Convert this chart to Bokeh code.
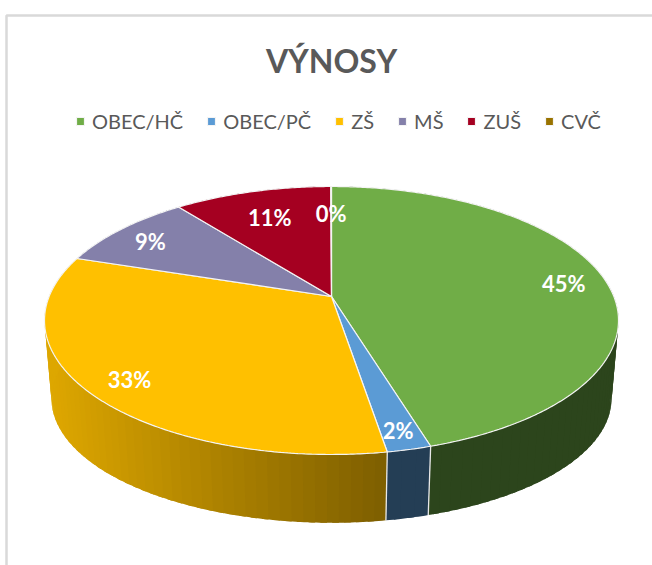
import math
from bokeh.plotting import figure
from bokeh.models import Range1d, Legend, LegendItem, Label
from bokeh.core.properties import value
from bokeh.embed import file_html
from bokeh.resources import INLINE

categories = ["OBEC/HČ", "OBEC/PČ", "ZŠ", "MŠ", "ZUŠ", "CVČ"]
shares = [45.3, 2.1, 32.6, 9.4, 10.55, 0.05]
colors = ["#70AD47", "#5B9BD5", "#FFC000", "#8480AA", "#A50021", "#997300"]
label_radius = [0.85, 0.88, 0.85, 0.85, 0.75, 0.75]
title_text = "VÝNOSY"

W, H = 652, 565
CX = 331
K = 0.179


def project(theta, r, cy, ry, rx, apex):
    """Perspective projection of a point of the pie's disc."""
    u, v = r * math.sin(theta), r * math.cos(theta)
    d = 1 + K * v
    a = rx * math.sqrt(1 - K * K)
    return CX + a * u / d, cy - (ry * v + apex) / d


def top(theta, r=1.0):
    return project(theta, r, 320, 134, 287, 24)


def low(theta):
    return project(theta, 1.0, 398, 124, 280, 22)


def shaded(hex_color, factor):
    rgb = [int(hex_color[i:i + 2], 16) for i in (1, 3, 5)]
    return "#%02x%02x%02x" % tuple(int(c * factor) for c in rgb)


p = figure(width=W, height=H, output_backend="svg", toolbar_location=None,
           x_range=Range1d(0, W), y_range=Range1d(H, 0), min_border=0,
           outline_line_color=None, background_fill_color="white",
           border_fill_color="white")
p.axis.visible = False
p.grid.visible = False
p.styles = {"position": "absolute", "left": "0px", "top": "0px"}

# chart area border
p.line([6, 6, W], [H, 15, 15], line_color="#d9d9d9", line_width=2.5)

total = sum(shares)
starts, ends = [], []
acc = 0.0
for s in shares:
    starts.append(acc / total * 2 * math.pi)
    acc += s
    ends.append(acc / total * 2 * math.pi)


def arc_angles(a0, a1, step=0.01):
    n = max(2, int((a1 - a0) / step))
    return [a0 + (a1 - a0) * i / n for i in range(n + 1)]


def wall_polygon(a0, a1):
    angs = arc_angles(a0, a1)
    t = [top(a) for a in angs]
    b = [low(a) for a in reversed(angs)]
    return [q[0] for q in t + b], [q[1] for q in t + b]


# walls: painted in short overlapping pieces, so that no piece folds over
# itself at the silhouette and no seam shows between two pieces
PIECE = 0.035
OVERLAP = 0.02
for c, a0, a1 in zip(colors, starts, ends):
    n = max(1, int((a1 - a0) / PIECE))
    for i in range(n):
        a = a0 + (a1 - a0) * i / n
        b = min(a1, a0 + (a1 - a0) * (i + 1) / n + OVERLAP)
        xs, ys = wall_polygon(a, b)
        if c == "#FFC000":
            f = 0.87 - (0.87 - 0.5) * (top(a)[0] - 50) / 336
            f = max(0.5, min(0.87, f))
        else:
            f = 0.4
        p.patch(xs, ys, fill_color=shaded(c, f), line_color=None)

# wall separators
for a in starts:
    x0, y0 = top(a)
    x1, y1 = low(a)
    p.line([x0, x1], [y0, y1], line_color="#e8e8e8", line_width=1.3)

# top slices
items = []
for name, c, a0, a1 in zip(categories, colors, starts, ends):
    pts = [top(a) for a in arc_angles(a0, a1)]
    xs = [CX] + [q[0] for q in pts]
    ys = [top(0, 0)[1]] + [q[1] for q in pts]
    r = p.patch(xs, ys, fill_color=c, line_color="#f4f4f4", line_width=1.2)
    items.append(LegendItem(label=value(name), renderers=[r]))

# data labels
for s, a0, a1, rf in zip(shares, starts, ends, label_radius):
    x, y = top((a0 + a1) / 2, rf)
    p.add_layout(Label(x=x, y=y, text=f"{s:.0f}%", y_offset=-3,
                       text_color="white", text_font="Lato",
                       text_font_style="bold", text_font_size="22px",
                       text_align="center", text_baseline="middle"))

# title
p.add_layout(Label(x=CX, y=60, text=title_text, text_color="#595959",
                   text_font="Lato", text_font_style="bold",
                   text_font_size="32px", text_align="center",
                   text_baseline="middle"))

legend = Legend(items=items, orientation="horizontal", location=(75, 432),
                padding=0, margin=0, spacing=23, border_line_color=None,
                background_fill_alpha=0, glyph_width=10, glyph_height=10,
                label_standoff=7, label_text_font="Lato",
                label_text_font_size="20px", label_text_color="#595959",
                label_height=24)
p.add_layout(legend, "center")

open("out.html", "w").write(file_html(p, INLINE))
